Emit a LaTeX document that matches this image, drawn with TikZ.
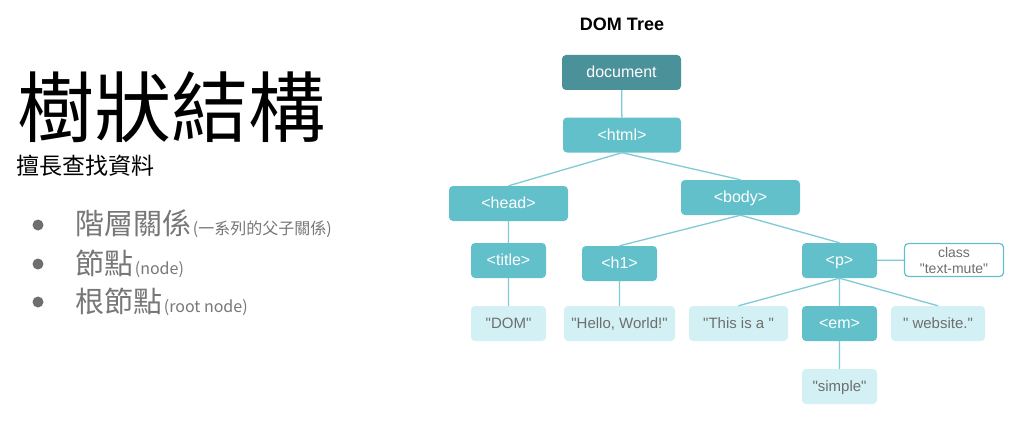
\documentclass[tikz,border=0pt]{standalone}
\usepackage{fontspec}
\usepackage{tikz}
\newfontfamily\boxfont{Liberation Sans}
\newfontfamily\cjk{Noto Sans CJK TC}
\definecolor{tealdark}{HTML}{4A9199}
\definecolor{teal500}{HTML}{62C0CB}
\definecolor{teal100}{HTML}{D3F1F4}
\definecolor{tealline}{HTML}{7FCBD5}
\definecolor{gray600}{HTML}{6E6E6E}
\definecolor{gray500}{HTML}{777777}
\tikzstyle{elem}=[rectangle, rounded corners=4pt, fill=teal500, text=white, inner sep=0pt, minimum height=35pt, text height=12pt, text depth=2pt, font=\boxfont\fontsize{16}{16}\selectfont]
\tikzstyle{txt}=[elem, fill=teal100, text=gray600, text height=11.5pt, text depth=2pt, font=\boxfont\fontsize{15}{15}\selectfont]
\tikzstyle{attr}=[rectangle, rounded corners=4pt, draw=teal500, line width=1.2pt, fill=white, text=gray600, inner sep=0pt, minimum width=99pt, minimum height=33pt, align=center, font=\boxfont\fontsize{14}{16}\selectfont]
\tikzstyle{dot}=[circle, fill=gray600, inner sep=0pt, minimum size=11pt]

\begin{document}
\begin{tikzpicture}[x=1pt, y=-1pt]
			\useasboundingbox[fill=white] (0,0) rectangle (1024,425);
			% left column
			\node[anchor=west, inner sep=0pt, font=\cjk\fontsize{77}{77}\selectfont] (title) at (17,107.5) {樹狀結構};
			\node[anchor=west, inner sep=0pt, font=\cjk\fontsize{23}{23}\selectfont] (subtitle) at (16,166) {擅長查找資料};
			\node[dot] (b1) at (38,225) {};
			\node[dot] (b2) at (38,264) {};
			\node[dot] (b3) at (38,302) {};
			\node[anchor=west, inner sep=0pt, text=gray500, font=\cjk] (t1) at (75,224) {{\fontsize{29}{29}\selectfont 階層關係}\,{\fontsize{16}{16}\selectfont (一系列的父子關係)}};
			\node[anchor=west, inner sep=0pt, text=gray500, font=\cjk] (t2) at (75,264) {{\fontsize{29}{29}\selectfont 節點}\,{\fontsize{16}{16}\selectfont (node)}};
			\node[anchor=west, inner sep=0pt, text=gray500, font=\cjk] (t3) at (75,302) {{\fontsize{29}{29}\selectfont 根節點}\,{\fontsize{16}{16}\selectfont (root node)}};
			% tree
			\node[font=\boxfont\bfseries\fontsize{18}{18}\selectfont] (heading) at (622,24) {DOM Tree};
			\node[elem, fill=tealdark, minimum width=119pt] (document) at (621.5,72.5) {document};
			\node[elem, minimum width=118pt] (html) at (622,135) {<html>};
			\node[elem, minimum width=119pt] (head) at (508.5,203.5) {<head>};
			\node[elem, minimum width=119pt] (body) at (740.5,197.5) {<body>};
			\node[elem, minimum width=75pt] (ttl) at (508.5,260.5) {<title>};
			\node[elem, minimum width=75pt] (h1) at (619.5,263.5) {<h1>};
			\node[elem, minimum width=75pt] (p) at (839.5,260.5) {<p>};
			\node[attr] (class) at (954,260) {class\\"text-mute"};
			\node[txt, minimum width=75pt] (dom) at (508.5,323.5) {"DOM"};
			\node[txt, minimum width=111pt] (hello) at (619.5,323.5) {"Hello, World!"};
			\node[txt, minimum width=99pt] (this) at (738.5,323.5) {"This is a "};
			\node[elem, minimum width=75pt] (em) at (839.5,323.5) {<em>};
			\node[txt, minimum width=94pt] (website) at (938,323.5) {" website."};
			\node[txt, minimum width=75pt] (simple) at (839.5,386.5) {"simple"};
			\path[draw=tealline, line width=1.3pt]
				(document)--(html)
				(html.south)--(head.north)(html.south)--(body.north)
				(head)--(ttl)(ttl)--(dom)
				(body.south)--(h1.north)(body.south)--(p.north)
				(h1)--(hello)
				(p)--(class)
				(p.south)--(this.north)(p)--(em)(p.south)--(website.north)
				(em)--(simple);
		\end{tikzpicture}
\end{document}
